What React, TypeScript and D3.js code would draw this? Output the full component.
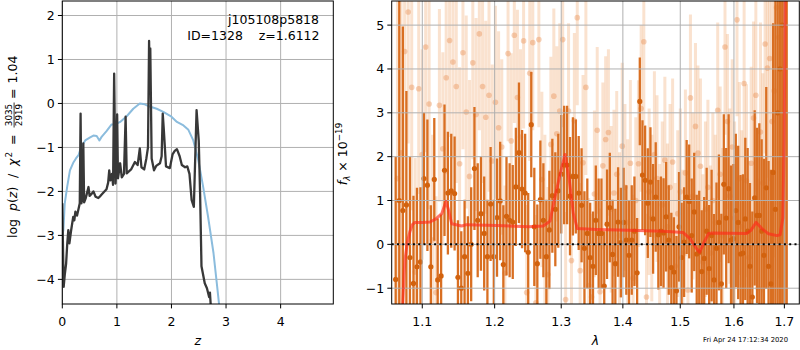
import React from "react";
import * as d3 from "d3";

// ---------- left panel: redshift PDF ----------
const zPdf = [0.0,0.012,0.025,0.045,0.07,0.09,0.11,0.13,0.16,0.2,0.22,0.24,0.27,0.3,0.32,0.335,0.35,0.37,0.385,0.4,0.43,0.45,0.48,0.5,0.54,0.57,0.61,0.66,0.7,0.75,0.81,0.84,0.86,0.88,0.91,0.93,0.95,0.975,0.99,1.005,1.02,1.06,1.09,1.13,1.16,1.18,1.26,1.33,1.38,1.42,1.45,1.5,1.54,1.57,1.59,1.603,1.612,1.637,1.68,1.72,1.79,1.82,1.84,1.86,1.9,1.97,2.02,2.06,2.1,2.15,2.19,2.25,2.29,2.33,2.37,2.41,2.46,2.5,2.525,2.55,2.61,2.65,2.69,2.705,2.72,2.735];
const logPz = [-2.27,-3.2,-4.17,-3.9,-3.64,-3.2,-2.88,-3.18,-2.9,-2.58,-2.66,-2.46,-2.55,-2.38,-2.27,-0.23,-2.27,-2.12,-0.91,-2.25,-2.15,-2.05,-1.9,-2.1,-2.05,-2.0,-2.12,-2.15,-2.1,-2.03,-1.95,-1.8,-1.52,-1.75,-1.6,-1.85,0.68,-1.82,-1.5,-0.25,-1.7,-1.36,-1.68,-1.6,-0.3,-1.59,-1.5,-1.33,-1.4,-1.02,-1.45,-1.5,-1.25,-1.0,1.42,0.3,1.25,-1.25,-1.52,-1.42,-1.36,-1.2,-0.23,-0.6,-1.43,-1.47,-1.16,-1.08,-1.04,-1.2,-1.4,-1.45,-1.43,-1.6,-2.2,-2.35,-0.15,-0.85,-2.07,-3.7,-4.09,-4.2,-4.4,-4.3,-4.6,-4.9];

const zPrior = [0.0,0.02,0.045,0.09,0.14,0.2,0.25,0.3,0.33,0.36,0.42,0.51,0.57,0.63,0.68,0.72,0.81,0.9,0.98,1.06,1.18,1.3,1.42,1.51,1.6,1.73,1.85,2.0,2.1,2.22,2.31,2.4,2.49,2.58,2.67,2.77,2.83,2.87,2.9];
const logPrior = [-3.0,-2.88,-2.27,-1.89,-1.52,-1.35,-1.25,-1.17,-1.05,-0.96,-0.84,-0.77,-0.73,-0.74,-0.84,-0.76,-0.63,-0.48,-0.47,-0.42,-0.29,-0.12,0.0,-0.02,-0.07,-0.12,-0.19,-0.3,-0.42,-0.5,-0.6,-0.84,-1.28,-1.89,-2.57,-3.4,-4.08,-4.54,-4.9];

const zTicks = [0, 1, 2, 3, 4];
const pzTicks = [2, 1, 0, -1, -2, -3, -4];

// ---------- right panel: spectrum ----------
const lamA = [1.0654,1.0700,1.0746,1.0792,1.0838,1.0884,1.0930,1.0976,1.1022,1.1068,
1.1114,1.1160,1.1206,1.1252,1.1298,1.1344,1.1390,1.1436,1.1482,1.1528,
1.1574,1.1620,1.1666,1.1712,1.1758,1.1804,1.1850,1.1896,1.1942,1.1988,
1.2034,1.2080,1.2126,1.2172,1.2218,1.2264,1.2310,1.2356,1.2402,1.2448,
1.2494,1.2540,1.2586,1.2632,1.2678,1.2724,1.2770,1.2816,1.2862,1.2908,
1.2954,1.3000,1.3046,1.3092,1.3138,1.3184,1.3230,1.3276,1.3322,1.3368,
1.3414,1.3460,1.3506,1.3552,1.3598,1.3644,1.3690,1.3736,1.3782,1.3828,
1.3874,1.3920,1.3966,1.4012,1.4058,1.4104,1.4150,1.4196,1.4242,1.4288,
1.4334,1.4380,1.4426,1.4472,1.4518,1.4564,1.4610,1.4656,1.4702,1.4748,
1.4794,1.4840,1.4886,1.4932,1.4978,1.5024,1.5070,1.5116,1.5162,1.5208,
1.5254,1.5300,1.5346,1.5392,1.5438,1.5484,1.5530,1.5576,1.5622,1.5668,
1.5714,1.5760,1.5806,1.5852,1.5898,1.5944,1.5990,1.6036,1.6082,1.6128,
1.6174,1.6220,1.6266,1.6312,1.6358,1.6404,1.6450,1.6496,1.6542,1.6588,
1.6634,1.6680,1.6726,1.6772,1.6818,1.6864,1.6910,1.6956,1.7002,1.7048];
const fluxA = [-0.8,1.0,0.77,0.9,-0.3,-0.89,-0.51,-0.40,1.50,1.35,
-0.51,1.48,-0.81,-0.72,1.69,1.17,1.22,1.16,-0.75,-1.0,
-0.28,-0.66,0.0,1.73,0.55,0.7,0.25,-0.28,0.92,-0.28,
0.61,0.99,-0.46,0.64,0.55,0.51,1.31,2.09,1.26,1.17,
-0.18,2.73,0.4,-0.44,1.02,0.55,-0.28,0.33,1.11,0.8,
1.22,1.6,1.81,1.81,1.1,1.55,1.55,1.17,0.89,-0.09,
0.25,-0.3,-0.5,0.55,0.25,0.25,-0.95,0.46,0.84,-0.23,
-0.44,0.51,0.04,0.5,0.1,-0.25,0.1,0.3,-0.65,3.26,
1.58,1.46,0.94,1.42,0.58,1.08,0.22,0.3,0.26,0.63,
0.1,-0.53,-0.63,-1.06,0.4,-0.3,0.05,1.08,0.98,0.2,
0.74,-0.22,-0.18,-0.62,-0.32,0.3,-0.55,0.2,-0.81,-0.09,
0.5,-0.9,1.37,0.6,1.27,0.1,0.13,0.77,0.5,-0.22,
-0.2,0.58,0.3,-0.5,-1.2,1.06,0.66,0.66,0.3,-0.25,
1.29,-0.5,-0.9,1.64,0.8,3.0,4.0,5.0,6.0,7.0];
const errA = [2.8,6.0,4.2,2.6,2.3,2.0,1.8,1.7,1.5,1.5,
1.4,1.4,1.4,1.4,1.5,1.4,1.3,1.3,1.3,1.3,
1.3,1.3,1.3,1.4,1.3,1.3,1.3,1.3,1.3,1.3,
1.35,1.35,1.35,1.35,1.3,1.3,1.35,1.6,1.35,1.35,
1.35,1.2,1.35,1.35,1.35,1.3,1.3,1.35,1.3,1.3,
1.3,1.35,1.35,1.35,1.35,1.35,1.3,1.3,1.3,1.3,
1.25,1.25,1.25,1.25,1.25,1.25,1.25,1.25,1.25,1.25,
1.25,1.25,1.25,1.25,1.25,1.25,1.25,1.25,1.25,1.0,
1.25,1.25,1.25,1.25,1.25,1.25,1.25,1.25,1.25,1.25,
1.25,1.25,1.25,1.25,1.25,1.25,1.25,1.3,1.3,1.3,
1.35,1.35,1.4,1.4,1.4,1.45,1.45,1.5,1.5,1.5,
1.55,1.6,1.6,1.6,1.7,1.7,1.7,1.75,1.75,1.8,
1.8,1.85,1.9,1.9,1.95,2.0,2.0,2.1,2.1,2.2,
2.3,2.4,2.6,3.4,5.0,6.0,8.0,10.0,12.0,14.0];

const lamB = [1.0677,1.0723,1.0769,1.0815,1.0861,1.0907,1.0953,1.0999,1.1045,1.1091,
1.1137,1.1183,1.1229,1.1275,1.1321,1.1367,1.1413,1.1459,1.1505,1.1551,
1.1597,1.1643,1.1689,1.1735,1.1781,1.1827,1.1873,1.1919,1.1965,1.2011,
1.2057,1.2103,1.2149,1.2195,1.2241,1.2287,1.2333,1.2379,1.2425,1.2471,
1.2517,1.2563,1.2609,1.2655,1.2701,1.2747,1.2793,1.2839,1.2885,1.2931,
1.2977,1.3023,1.3069,1.3115,1.3161,1.3207,1.3253,1.3299,1.3345,1.3391,
1.3437,1.3483,1.3529,1.3575,1.3621,1.3667,1.3713,1.3759,1.3805,1.3851,
1.3897,1.3943,1.3989,1.4035,1.4081,1.4127,1.4173,1.4219,1.4265,1.4311,
1.4357,1.4403,1.4449,1.4495,1.4541,1.4587,1.4633,1.4679,1.4725,1.4771,
1.4817,1.4863,1.4909,1.4955,1.5001,1.5047,1.5093,1.5139,1.5185,1.5231,
1.5277,1.5323,1.5369,1.5415,1.5461,1.5507,1.5553,1.5599,1.5645,1.5691,
1.5737,1.5783,1.5829,1.5875,1.5921,1.5967,1.6013,1.6059,1.6105,1.6151,
1.6197,1.6243,1.6289,1.6335,1.6381,1.6427,1.6473,1.6519,1.6565,1.6611,
1.6657,1.6703,1.6749,1.6795,1.6841,1.6887,1.6933,1.6979,1.7025];
const fluxB = [1.5,2.09,4.4,5.3,3.58,-0.63,3.55,2.05,4.5,3.2,
0.1,-1.1,3.17,2.18,3.8,4.65,4.16,3.6,1.84,4.37,
3.02,1.55,4.14,2.96,4.8,3.6,2.9,3.4,1.9,3.24,
2.66,2.22,-0.66,4.35,2.36,4.77,3.35,2.45,4.64,-1.1,
3.9,4.6,-1.33,4.67,1.48,0.5,-0.69,2.28,3.38,2.52,
3.04,4.67,-1.26,3.04,-0.37,2.82,5.17,-0.6,1.86,3.58,
-0.94,-1.2,1.15,2.6,-1.08,1.79,2.39,2.55,0.8,1.17,
1.6,0.2,2.24,1.3,0.5,1.85,-0.77,1.0,1.84,3.1,
4.62,-1.2,1.2,0.6,2.05,1.5,-0.07,0.9,1.92,0.4,
1.3,1.88,-0.5,0.7,1.2,-0.2,1.63,-1.04,3.34,1.1,
2.69,2.08,1.78,-0.4,0.8,1.3,-0.2,1.0,0.5,3.06,
1.6,0.2,4.5,2.8,1.1,2.22,0.6,5.12,1.5,0.4,
3.67,1.45,-0.3,1.85,2.88,3.4,-1.0,2.56,1.4,4.57,
4.02,4.24,2.8,3.5,5.4,4.72,6.0,7.0,8.0];
const errB = [6.0,4.5,3.5,3.0,2.8,2.6,2.4,2.4,2.4,2.4,
2.4,2.2,2.2,2.2,2.2,2.2,2.2,2.2,2.2,2.2,
2.2,2.2,2.2,2.2,2.2,2.2,2.2,2.2,2.2,2.2,
2.2,2.0,2.0,2.0,2.0,2.0,2.0,2.0,2.0,2.0,
2.0,2.0,2.0,2.0,2.0,2.0,2.0,2.0,2.0,2.0,
2.0,2.0,2.0,2.0,2.0,2.0,2.0,2.0,2.0,2.0,
2.0,1.9,1.9,1.9,1.9,1.9,1.9,1.9,1.9,1.9,
1.9,1.9,1.9,1.9,1.9,1.9,1.9,1.9,1.9,1.9,
1.9,1.9,1.9,1.9,1.9,1.9,1.9,1.9,1.9,1.9,
1.9,1.9,1.9,1.9,1.9,1.9,1.9,1.9,1.9,1.9,
1.9,2.0,2.0,2.0,2.0,2.0,2.0,2.0,2.0,2.0,
2.0,2.0,2.0,2.0,2.0,2.0,2.2,2.2,2.2,2.2,
2.2,2.2,2.2,2.2,2.2,2.2,2.5,2.5,2.5,2.5,
2.5,2.8,3.2,3.8,4.5,5.5,7.0,9.0,11.0];

const lamModel = [1.0740,1.0761,1.0774,1.0803,1.0839,1.0870,1.0904,1.1000,1.1102,1.1183,1.1260,1.1318,1.1350,1.1396,1.1533,1.1600,1.2029,1.2500,1.2723,1.2826,1.2888,1.2982,1.3060,1.3128,1.3191,1.3254,1.3567,1.4100,1.4696,1.5054,1.5176,1.5298,1.5353,1.5428,1.5521,1.5600,1.6251,1.6330,1.6433,1.6546,1.6680,1.6847,1.6914,1.6969,1.6996,1.7010,1.7025];
const fluxModel = [-1.6,-0.7,-0.35,0.04,0.3,0.45,0.5,0.5,0.51,0.58,0.7,0.98,0.8,0.47,0.42,0.45,0.43,0.4,0.42,0.53,0.98,1.6,2.05,1.45,0.7,0.36,0.34,0.32,0.3,0.27,0.13,-0.1,-0.18,0.03,0.25,0.26,0.25,0.32,0.5,0.36,0.24,0.2,0.22,0.6,2.4,4.5,7.0];

const lamTicks = [1.1, 1.2, 1.3, 1.4, 1.5, 1.6, 1.7];
const fluxTicks = [-1, 0, 1, 2, 3, 4, 5];

const FONT = "DejaVu Sans";
const fmt = (d: number) => (d < 0 ? "\u2212" + Math.abs(d) : String(d));

export default function App() {
  const L = { x0: 62.3, x1: 333.3, y0: 1, y1: 304 };
  const R = { x0: 391.7, x1: 799.3, y0: 1, y1: 304 };
  const xL = d3.scaleLinear().domain([0, 4.965]).range([L.x0, L.x1]);
  const yL = d3.scaleLinear().domain([-4.56, 2.33]).range([L.y1, L.y0]);
  const xR = d3.scaleLog().domain([1.0603, 1.7308]).range([R.x0, R.x1]);
  const yR = d3.scaleLinear().domain([-1.36, 5.55]).range([R.y1, R.y0]);

  const pdfLine = d3.line<number>().x((_, i) => xL(zPdf[i])).y((d) => yL(d));
  const priorLine = d3.line<number>().x((_, i) => xL(zPrior[i])).y((d) => yL(d));
  const modelLine = d3.line<number>().x((_, i) => xR(lamModel[i])).y((d) => yR(d));
  const tickLen = 4.4;

  return (
    <svg width={800} height={350} style={{ position: "absolute", left: 0, top: 0, background: "#fff" }} fontFamily={FONT}>
      <defs>
        <clipPath id="clipL"><rect x={L.x0} y={L.y0} width={L.x1 - L.x0} height={L.y1 - L.y0} /></clipPath>
        <clipPath id="clipR"><rect x={R.x0} y={R.y0} width={R.x1 - R.x0} height={R.y1 - R.y0} /></clipPath>
      </defs>
      <rect x={0} y={0} width={800} height={350} fill="#fff" />

      {/* ---------- LEFT PANEL ---------- */}
      <g>
        {zTicks.map((t) => (
          <line key={"gzx" + t} x1={xL(t)} x2={xL(t)} y1={L.y0} y2={L.y1} stroke="#b0b0b0" strokeWidth={1} />
        ))}
        {pzTicks.map((t) => (
          <line key={"gzy" + t} x1={L.x0} x2={L.x1} y1={yL(t)} y2={yL(t)} stroke="#b0b0b0" strokeWidth={1} />
        ))}
        <g clipPath="url(#clipL)">
          <path d={priorLine(logPrior) || ""} fill="none" stroke="#8bbcdd" strokeWidth={2} strokeLinejoin="round" />
          <path d={pdfLine(logPz) || ""} fill="none" stroke="#383838" strokeWidth={2.3} strokeLinejoin="round" />
        </g>
        <rect x={L.x0} y={L.y0} width={L.x1 - L.x0} height={L.y1 - L.y0} fill="none" stroke="#000" strokeWidth={1} />
        {zTicks.map((t) => (
          <g key={"tzx" + t}>
            <line x1={xL(t)} x2={xL(t)} y1={L.y1} y2={L.y1 + tickLen} stroke="#000" strokeWidth={1} />
            <text x={xL(t)} y={L.y1 + 21.5} fontSize={12.5} textAnchor="middle">{fmt(t)}</text>
          </g>
        ))}
        {pzTicks.map((t) => (
          <g key={"tzy" + t}>
            <line x1={L.x0 - tickLen} x2={L.x0} y1={yL(t)} y2={yL(t)} stroke="#000" strokeWidth={1} />
            <text x={L.x0 - 7.5} y={yL(t) + 4.5} fontSize={12.5} textAnchor="end">{fmt(t)}</text>
          </g>
        ))}
        <text x={(L.x0 + L.x1) / 2} y={345} fontSize={12.5} fontStyle="italic" textAnchor="middle">z</text>
        <text x={319} y={24} fontSize={12.5} textAnchor="end">j105108p5818</text>
        <text x={319.5} y={39.5} fontSize={12.5} textAnchor="end" xmlSpace="preserve">{"ID=1328    z=1.6112"}</text>
        <g transform="translate(16.7,238) rotate(-90)" fontSize={12.5}>
          <text x={0} y={0}>log</text>
          <text x={27} y={0}>
            <tspan fontStyle="italic">p</tspan>(<tspan fontStyle="italic">z</tspan>)
          </text>
          <text x={60} y={0}>/</text>
          <text x={72} y={0} fontStyle="italic">χ</text>
          <text x={80.5} y={-5} fontSize={8.8}>2</text>
          <text x={93} y={0}>=</text>
          <text x={123} y={-4.5} fontSize={8.8} textAnchor="middle">3035</text>
          <line x1={110.5} x2={135.5} y1={-2.6} y2={-2.6} stroke="#000" strokeWidth={0.8} />
          <text x={123} y={5.2} fontSize={8.8} textAnchor="middle">2919</text>
          <text x={139} y={0}>=</text>
          <text x={154.5} y={0}>1.04</text>
        </g>
      </g>

      {/* ---------- RIGHT PANEL ---------- */}
      <g>
        <g clipPath="url(#clipR)">
          {lamB.map((l, i) => (
            <line key={"eb" + i} x1={xR(l)} x2={xR(l)} y1={yR(fluxB[i] - errB[i])} y2={yR(fluxB[i] + errB[i])} stroke="#f0a060" strokeOpacity={0.3} strokeWidth={3} />
          ))}
          {lamB.map((l, i) => (
            <circle key={"pb" + i} cx={xR(l)} cy={yR(fluxB[i])} r={2.8} fill="#e8884a" fillOpacity={0.38} />
          ))}
          {lamA.map((l, i) => (
            <line key={"ea" + i} x1={xR(l)} x2={xR(l)} y1={yR(fluxA[i] - errA[i])} y2={yR(fluxA[i] + errA[i])} stroke="#d96f22" strokeWidth={2.3} />
          ))}
          {lamA.map((l, i) => (
            <circle key={"pa" + i} cx={xR(l)} cy={yR(fluxA[i])} r={2.6} fill="#d2620e" />
          ))}
        </g>
        {lamTicks.map((t) => (
          <line key={"grx" + t} x1={xR(t)} x2={xR(t)} y1={R.y0} y2={R.y1} stroke="#b0b0b0" strokeWidth={1} />
        ))}
        {fluxTicks.map((t) => (
          <line key={"gry" + t} x1={R.x0} x2={R.x1} y1={yR(t)} y2={yR(t)} stroke="#b0b0b0" strokeWidth={1} />
        ))}
        <g clipPath="url(#clipR)">
          <path d={modelLine(fluxModel) || ""} fill="none" stroke="#ff2a1a" strokeOpacity={0.65} strokeWidth={3} strokeLinejoin="round" />
          <line x1={R.x0} x2={R.x1} y1={yR(0)} y2={yR(0)} stroke="#000" strokeWidth={2} strokeDasharray="2,3.3" />
        </g>
        <rect x={R.x0} y={R.y0} width={R.x1 - R.x0} height={R.y1 - R.y0} fill="none" stroke="#000" strokeWidth={1} />
        {lamTicks.map((t) => (
          <g key={"trx" + t}>
            <line x1={xR(t)} x2={xR(t)} y1={R.y1} y2={R.y1 + tickLen} stroke="#000" strokeWidth={1} />
            <text x={xR(t)} y={R.y1 + 21.5} fontSize={12.5} textAnchor="middle">{t.toFixed(1)}</text>
          </g>
        ))}
        {fluxTicks.map((t) => (
          <g key={"try" + t}>
            <line x1={R.x0 - tickLen} x2={R.x0} y1={yR(t)} y2={yR(t)} stroke="#000" strokeWidth={1} />
            <text x={R.x0 - 7.5} y={yR(t) + 4.5} fontSize={12.5} textAnchor="end">{fmt(t)}</text>
          </g>
        ))}
        <text x={(R.x0 + R.x1) / 2} y={345} fontSize={12.5} fontStyle="italic" textAnchor="middle">λ</text>
        <g transform="translate(347,154) rotate(-90)" fontSize={12.5}>
          <text x={0} y={0} textAnchor="middle">
            <tspan fontStyle="italic">f</tspan>
            <tspan fontSize={8.8} fontStyle="italic" dy={3}>λ</tspan>
            <tspan dy={-3}>{" \u00d7 10"}</tspan>
            <tspan fontSize={8.8} dy={-5}>{"\u221219"}</tspan>
          </text>
        </g>
        <text x={788} y={341.7} fontSize={6.8} textAnchor="end">Fri Apr 24 17:12:34 2020</text>
      </g>
    </svg>
  );
}
